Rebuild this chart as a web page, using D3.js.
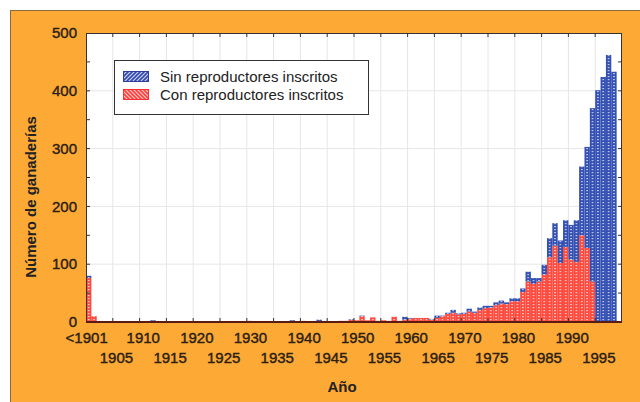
<!DOCTYPE html>
<html lang="es">
<head>
<meta charset="utf-8">
<script type="text/javascript" src="https://cdnjs.cloudflare.com/ajax/libs/d3/7.8.5/d3.min.js"></script>
<style>
  body { margin: 0; background: #fff; }
  text { font-family: Arial, "Liberation Sans", sans-serif; }
</style>
</head>
<body>
<div id="container"></div>
<script type="text/javascript">
    var w = 640;
    var h = 402;

    // years: first category is "<1901"
    var years = d3.range(1900, 1999);
    var con = [76, 10, 1, 1, 0, 1, 1, 0, 1, 1,
               1, 1, 1, 1, 1, 0, 1, 1, 1, 1,
               1, 1, 0, 1, 1, 1, 1, 1, 1, 1,
               2, 1, 1, 1, 1, 1, 1, 1, 1, 1,
               2, 1, 1, 1, 1, 1, 1, 2, 2, 4,
               3, 10, 3, 8, 2, 3, 2, 9, 2, 4,
               6, 7, 7, 7, 4, 7, 10, 14, 16, 13,
               14, 18, 16, 21, 24, 25, 29, 32, 31, 36,
               36, 52, 70, 66, 70, 82, 112, 132, 102, 130,
               108, 104, 150, 128, 70, 0, 0, 0, 0];
    var sin = [4, 0, 0, 0, 0, 0, 0, 0, 0, 0,
               0, 0, 2, 0, 0, 0, 0, 0, 0, 0,
               0, 0, 0, 0, 0, 0, 0, 0, 0, 0,
               0, 0, 0, 0, 0, 0, 0, 0, 2, 0,
               0, 0, 0, 3, 0, 0, 0, 0, 0, 1,
               0, 1, 0, 0, 0, 0, 0, 0, 0, 5,
               1, 0, 0, 0, 1, 4, 1, 2, 5, 2,
               2, 5, 2, 4, 4, 3, 5, 5, 3, 5,
               5, 6, 17, 10, 6, 17, 33, 39, 39, 46,
               60, 72, 119, 175, 300, 401, 424, 462, 433];
    var yTicks = [0, 100, 200, 300, 400, 500];
    var seriesNames = ["Sin reproductores inscritos", "Con reproductores inscritos"];

    var pLeft = 86, pRight = 622, pTop = 33, pBottom = 322;
    var nSlots = 100;

    var svg = d3.select("#container")
                .append("svg")
                .attr("width", w)
                .attr("height", h);

    var x = d3.scaleLinear().domain([0, nSlots]).range([pLeft, pRight]);
    var y = d3.scaleLinear().domain([0, 500]).range([pBottom, pTop]);
    var sw = x(1) - x(0);

    var defs = svg.append("defs");
    function dots(id, color) {
        var p = defs.append("pattern")
            .attr("id", id)
            .attr("patternUnits", "userSpaceOnUse")
            .attr("x", pLeft).attr("y", 0)
            .attr("width", sw).attr("height", 3);
        p.append("rect").attr("width", sw).attr("height", 3).attr("fill", color);
        p.append("rect").attr("x", sw / 2 - 0.7).attr("y", 1)
            .attr("width", 1.4).attr("height", 1.2)
            .attr("fill", "#fff").attr("opacity", 0.85);
    }
    dots("dotBlue", "#3450b2");
    dots("dotRed", "#ff4a3d");

    function hatch(id, color, back, dir) {
        var p = defs.append("pattern")
            .attr("id", id)
            .attr("patternUnits", "userSpaceOnUse")
            .attr("width", 4).attr("height", 4);
        p.append("rect").attr("width", 4).attr("height", 4).attr("fill", back);
        p.append("path")
            .attr("d", dir > 0 ? "M-1,1 l2,-2 M0,4 l4,-4 M3,5 l2,-2" : "M-1,3 l2,2 M0,0 l4,4 M3,-1 l2,2")
            .attr("stroke", color).attr("stroke-width", 1.6);
    }
    hatch("hatchBlue", "#3346b0", "#c9d2f5", 1);
    hatch("hatchRed", "#ff3b3b", "#ffd0c8", -1);

    // outer frame
    svg.append("rect")
        .attr("x", 10.5).attr("y", 10.5)
        .attr("width", w).attr("height", h)
        .attr("fill", "#fda935")
        .attr("stroke", "#8a6a3c");

    // plot area
    svg.append("rect")
        .attr("x", pLeft).attr("y", pTop)
        .attr("width", pRight - pLeft).attr("height", pBottom - pTop)
        .attr("fill", "#fff");

    // grid
    svg.append("g").selectAll("line")
        .data(d3.range(5, nSlots, 5))
        .enter().append("line")
        .attr("x1", function(d) { return x(d); })
        .attr("x2", function(d) { return x(d); })
        .attr("y1", pTop).attr("y2", pBottom)
        .attr("stroke", "#e6e6e6");
    svg.append("g").selectAll("line")
        .data([100, 200, 300, 400])
        .enter().append("line")
        .attr("x1", pLeft).attr("x2", pRight)
        .attr("y1", function(d) { return y(d); })
        .attr("y2", function(d) { return y(d); })
        .attr("stroke", "#e6e6e6");

    // bars
    var rows = years.map(function(yr, i) { return { i: i, con: con[i], sin: sin[i] }; });
    var stacked = d3.stack().keys(["con", "sin"])(rows);
    var fills = { con: "url(#dotRed)", sin: "url(#dotBlue)" };

    svg.append("g").selectAll("g")
        .data(stacked)
        .enter().append("g")
        .attr("fill", function(s) { return fills[s.key]; })
        .selectAll("rect")
        .data(function(s) { return s.filter(function(d) { return d[1] > d[0]; }); })
        .enter().append("rect")
        .attr("x", function(d) { return x(d.data.i); })
        .attr("width", sw)
        .attr("y", function(d) { return y(d[1]); })
        .attr("height", function(d) { return y(d[0]) - y(d[1]); });

    // frame and ticks
    svg.append("rect")
        .attr("x", pLeft + 0.5).attr("y", pTop + 0.5)
        .attr("width", pRight - pLeft - 1).attr("height", pBottom - pTop)
        .attr("fill", "none")
        .attr("stroke", "#333");
    svg.append("line")
        .attr("x1", pLeft).attr("x2", pRight)
        .attr("y1", pBottom).attr("y2", pBottom)
        .attr("stroke", "#5a1c12").attr("stroke-width", 2);

    var yMinor = d3.range(50, 500, 50);
    var ticks = svg.append("g").attr("stroke", "#333");
    yMinor.forEach(function(v) {
        ticks.append("line").attr("x1", pLeft).attr("x2", pLeft + 4)
            .attr("y1", y(v)).attr("y2", y(v));
        ticks.append("line").attr("x1", pRight - 4).attr("x2", pRight)
            .attr("y1", y(v)).attr("y2", y(v));
    });
    d3.range(5, nSlots, 5).forEach(function(v) {
        ticks.append("line").attr("x1", x(v)).attr("x2", x(v))
            .attr("y1", pTop).attr("y2", pTop + 4);
        ticks.append("line").attr("x1", x(v)).attr("x2", x(v))
            .attr("y1", pBottom - 4).attr("y2", pBottom);
    });

    // y labels
    svg.append("g").selectAll("text")
        .data(yTicks)
        .enter().append("text")
        .attr("x", 77)
        .attr("y", function(d) { return y(d); })
        .attr("dy", "0.35em")
        .attr("text-anchor", "end")
        .attr("font-size", 15)
        .attr("fill", "#2a2014")
        .attr("stroke", "#2a2014").attr("stroke-width", 0.4)
        .text(function(d) { return d; });

    // x labels, two rows
    var xLab = years.filter(function(yr, i) { return i === 0 || yr % 5 === 0; });
    svg.append("g").selectAll("text")
        .data(xLab)
        .enter().append("text")
        .attr("x", function(d) { return x(d - 1900 + 0.5) + (d === 1900 ? -2 : 1); })
        .attr("y", function(d) { return (d === 1900 || d % 10 === 0) ? 343 : 363; })
        .attr("text-anchor", "middle")
        .attr("font-size", 15)
        .attr("fill", "#2a2014")
        .attr("stroke", "#2a2014").attr("stroke-width", 0.4)
        .text(function(d) { return d === 1900 ? "<1901" : d; });

    // axis titles
    svg.append("text")
        .attr("x", 342).attr("y", 392)
        .attr("text-anchor", "middle")
        .attr("font-size", 15).attr("font-weight", "bold")
        .attr("fill", "#222")
        .text("Año");
    svg.append("text")
        .attr("transform", "translate(36,197) rotate(-90)")
        .attr("text-anchor", "middle")
        .attr("font-size", 15).attr("font-weight", "bold")
        .attr("fill", "#222")
        .text("Número de ganaderías");

    // legend
    var lg = svg.append("g");
    lg.append("rect")
        .attr("x", 114.5).attr("y", 60.5)
        .attr("width", 254).attr("height", 54)
        .attr("fill", "#fff").attr("stroke", "#333");
    var lgFill = ["url(#hatchBlue)", "url(#hatchRed)"];
    var lgStroke = ["#2f3fa0", "#ff3030"];
    lg.selectAll("g.item")
        .data(seriesNames)
        .enter().append("g")
        .attr("class", "item")
        .attr("transform", function(d, i) { return "translate(0," + (i * 18) + ")"; })
        .each(function(d, i) {
            var g = d3.select(this);
            g.append("rect")
                .attr("x", 123.5).attr("y", 71.5)
                .attr("width", 25).attr("height", 10)
                .attr("fill", lgFill[i]).attr("stroke", lgStroke[i]);
            g.append("text")
                .attr("x", 160).attr("y", 82)
                .attr("font-size", 15)
                .attr("fill", "#222")
                .text(d);
        });
</script>
</body>
</html>
